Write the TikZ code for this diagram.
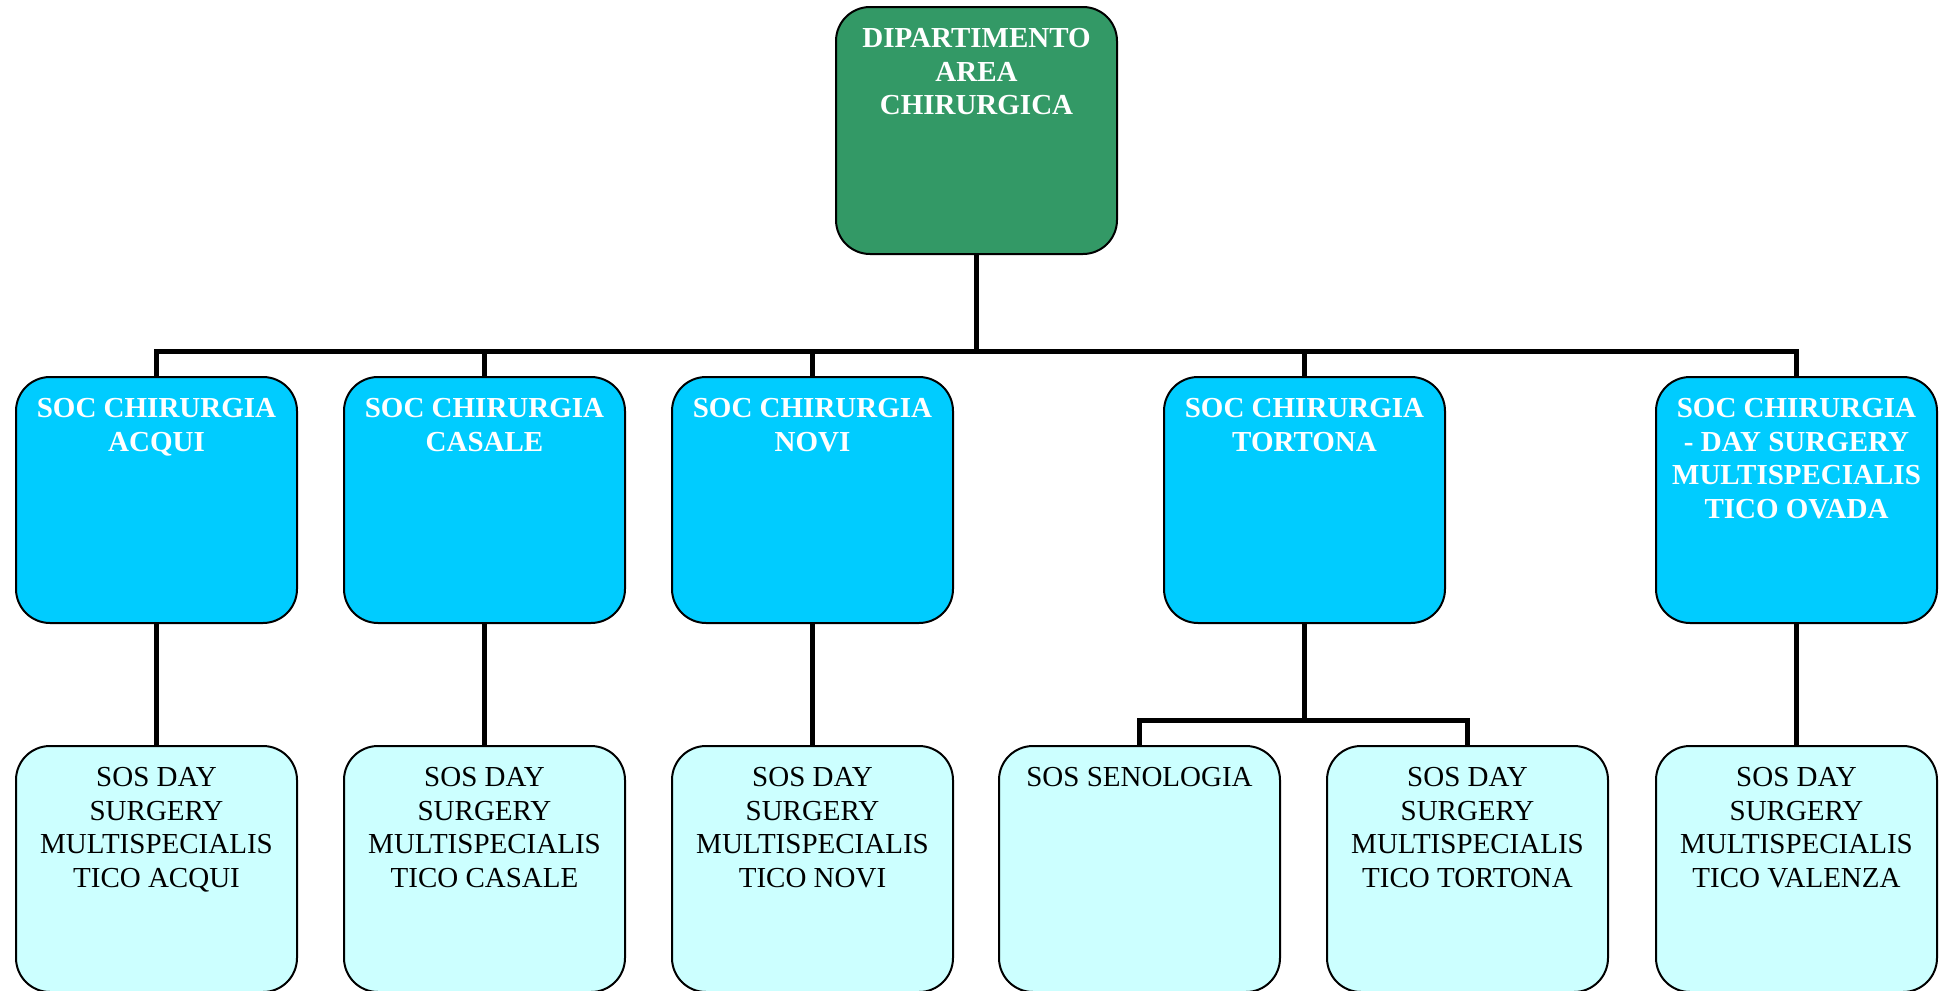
\documentclass[tikz,border=0pt]{standalone}
\usepackage{fontspec}
\setmainfont{Liberation Serif}
\definecolor{deptgreen}{HTML}{339966}
\definecolor{soccyan}{HTML}{00CCFF}
\definecolor{soslight}{HTML}{CCFFFF}
% box text: top-aligned, centred lines inside a fixed-size box
\newcommand{\orgtext}[2]{\parbox[c][#1][t]{140.5pt}{\centering\vspace*{10.8pt}\fontsize{14.5pt}{16.7pt}\selectfont #2\par}}
\tikzset{
  orgbox/.style={draw=black, line width=1pt, rounded corners=17pt, inner sep=0pt, anchor=north west},
  deptbox/.style={orgbox, fill=deptgreen, text=white, font=\bfseries},
  socbox/.style={orgbox, fill=soccyan, text=white, font=\bfseries},
  sosbox/.style={orgbox, fill=soslight, text=black},
  conn/.style={line width=2.5pt, line join=miter}
}
\begin{document}
\begin{tikzpicture}[x=0.5pt, y=-0.5pt]
\useasboundingbox (0,0) rectangle (1940,991);

% department
\node[deptbox] (dept) at (835,6) {\orgtext{123.5pt}{DIPARTIMENTO\\AREA\\CHIRURGICA}};

% structures (SOC)
\node[socbox] (acqui)   at (15,376)   {\orgtext{123pt}{SOC CHIRURGIA\\ACQUI}};
\node[socbox] (casale)  at (343,376)  {\orgtext{123pt}{SOC CHIRURGIA\\CASALE}};
\node[socbox] (novi)    at (671,376)  {\orgtext{123pt}{SOC CHIRURGIA\\NOVI}};
\node[socbox] (tortona) at (1163,376) {\orgtext{123pt}{SOC CHIRURGIA\\TORTONA}};
\node[socbox] (ovada)   at (1655,376) {\orgtext{123pt}{SOC CHIRURGIA\\- DAY SURGERY\\MULTISPECIALIS\\TICO OVADA}};

% simple structures (SOS)
\node[sosbox] (dsacqui)   at (15,745)   {\orgtext{123pt}{SOS DAY\\SURGERY\\MULTISPECIALIS\\TICO ACQUI}};
\node[sosbox] (dscasale)  at (343,745)  {\orgtext{123pt}{SOS DAY\\SURGERY\\MULTISPECIALIS\\TICO CASALE}};
\node[sosbox] (dsnovi)    at (671,745)  {\orgtext{123pt}{SOS DAY\\SURGERY\\MULTISPECIALIS\\TICO NOVI}};
\node[sosbox] (seno)      at (998,745)  {\orgtext{123pt}{SOS SENOLOGIA}};
\node[sosbox] (dstortona) at (1326,745) {\orgtext{123pt}{SOS DAY\\SURGERY\\MULTISPECIALIS\\TICO TORTONA}};
\node[sosbox] (dsvalenza) at (1655,745) {\orgtext{123pt}{SOS DAY\\SURGERY\\MULTISPECIALIS\\TICO VALENZA}};

% connectors
\coordinate (bus) at (976,351);
\coordinate (tlevel) at (0,720);
\draw[conn] (dept.south) -- (dept.south |- bus);
\draw[conn] (acqui.north) -- (acqui.north |- bus) -| (ovada.north);
\draw[conn] (casale.north) -- (casale.north |- bus);
\draw[conn] (novi.north) -- (novi.north |- bus);
\draw[conn] (tortona.north) -- (tortona.north |- bus);

\draw[conn] (acqui.south) -- (dsacqui.north);
\draw[conn] (casale.south) -- (dscasale.north);
\draw[conn] (novi.south) -- (dsnovi.north);
\draw[conn] (ovada.south) -- (dsvalenza.north);
\draw[conn] (tortona.south) -- (tortona.south |- tlevel);
\draw[conn] (seno.north) -- (seno.north |- tlevel) -| (dstortona.north);
\end{tikzpicture}
\end{document}
